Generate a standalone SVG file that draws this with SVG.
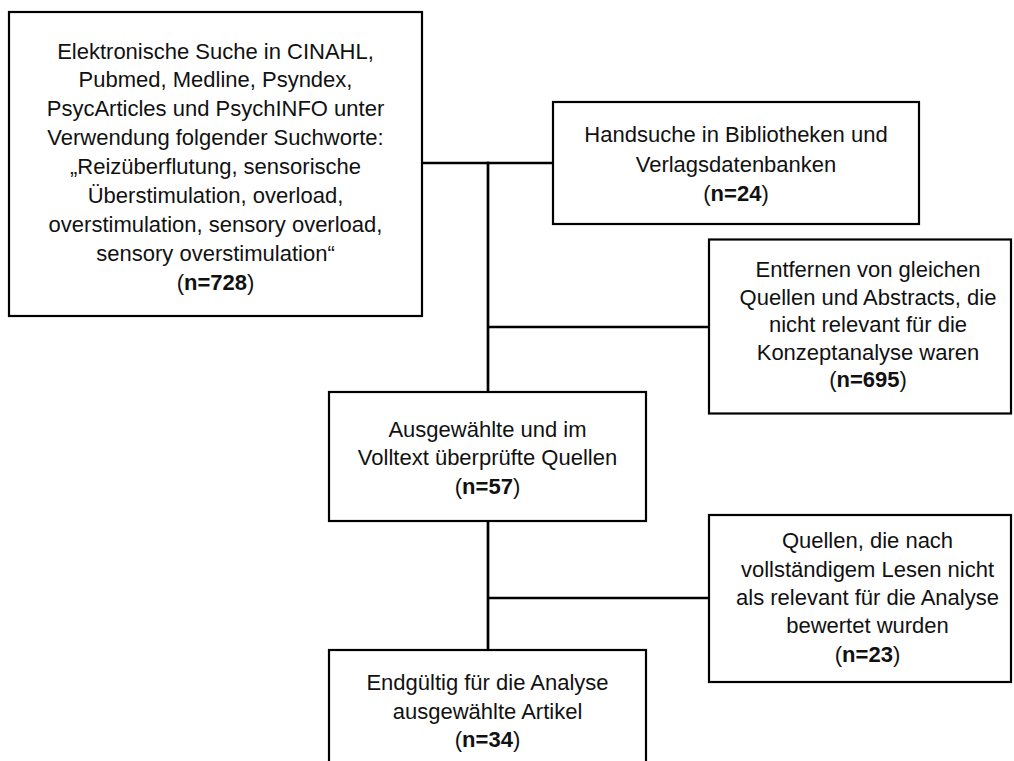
<svg xmlns="http://www.w3.org/2000/svg" width="1014" height="761" viewBox="0 0 1014 761">
<style>
.box{fill:#fff;stroke:#000;stroke-width:2.2}
.t{font-family:"Liberation Sans",Arial,sans-serif;font-size:22px;fill:#111;text-anchor:middle}
.b{font-weight:bold}
.con{stroke:#000;stroke-width:2.7;fill:none}
</style>
<rect width="1014" height="761" fill="#fff"/>
<g id="connectors">
<line class="con" x1="422" y1="163" x2="553" y2="163"/>
<line class="con" x1="488" y1="161.7" x2="488" y2="392"/>
<line class="con" x1="488" y1="327" x2="709" y2="327"/>
<line class="con" x1="488" y1="521" x2="488" y2="650"/>
<line class="con" x1="488" y1="598" x2="709" y2="598"/>
</g>
<g id="n1">
<rect class="box" x="9" y="12" width="413" height="304"/>
<text class="t" x="215.5" y="58.5">Elektronische Suche in CINAHL,</text>
<text class="t" x="215.5" y="87.4">Pubmed, Medline, Psyndex,</text>
<text class="t" x="215.5" y="116.3">PsycArticles und PsychINFO unter</text>
<text class="t" x="215.5" y="145.2">Verwendung folgender Suchworte:</text>
<text class="t" x="215.5" y="174.1">„Reizüberflutung, sensorische</text>
<text class="t" x="215.5" y="203">Überstimulation, overload,</text>
<text class="t" x="215.5" y="231.9">overstimulation, sensory overload,</text>
<text class="t" x="215.5" y="260.8">sensory overstimulation“</text>
<text class="t" x="215.5" y="289.7">(<tspan class="b">n=728</tspan>)</text>
</g>
<g id="n2">
<rect class="box" x="553" y="102" width="366" height="122"/>
<text class="t" x="736" y="142.3">Handsuche in Bibliotheken und</text>
<text class="t" x="736" y="171.7">Verlagsdatenbanken</text>
<text class="t" x="736" y="201">(<tspan class="b">n=24</tspan>)</text>
</g>
<g id="n3">
<rect class="box" x="709" y="239.5" width="302" height="174"/>
<text class="t" x="868" y="277">Entfernen von gleichen</text>
<text class="t" x="868" y="304.5">Quellen und Abstracts, die</text>
<text class="t" x="868" y="332">nicht relevant für die</text>
<text class="t" x="868" y="359.5">Konzeptanalyse waren</text>
<text class="t" x="868" y="387">(<tspan class="b">n=695</tspan>)</text>
</g>
<g id="n4">
<rect class="box" x="329" y="392" width="317" height="129"/>
<text class="t" x="487.5" y="436.5">Ausgewählte und im</text>
<text class="t" x="487.5" y="465">Volltext überprüfte Quellen</text>
<text class="t" x="487.5" y="494">(<tspan class="b">n=57</tspan>)</text>
</g>
<g id="n5">
<rect class="box" x="709" y="515" width="302" height="167"/>
<text class="t" x="867.5" y="548.3">Quellen, die nach</text>
<text class="t" x="867.5" y="576.7">vollständigem Lesen nicht</text>
<text class="t" x="867.5" y="605">als relevant für die Analyse</text>
<text class="t" x="867.5" y="633.3">bewertet wurden</text>
<text class="t" x="867.5" y="661.7">(<tspan class="b">n=23</tspan>)</text>
</g>
<g id="n6">
<rect class="box" x="329" y="650" width="317" height="130"/>
<text class="t" x="487.5" y="690">Endgültig für die Analyse</text>
<text class="t" x="487.5" y="718.5">ausgewählte Artikel</text>
<text class="t" x="487.5" y="747">(<tspan class="b">n=34</tspan>)</text>
</g>
</svg>
